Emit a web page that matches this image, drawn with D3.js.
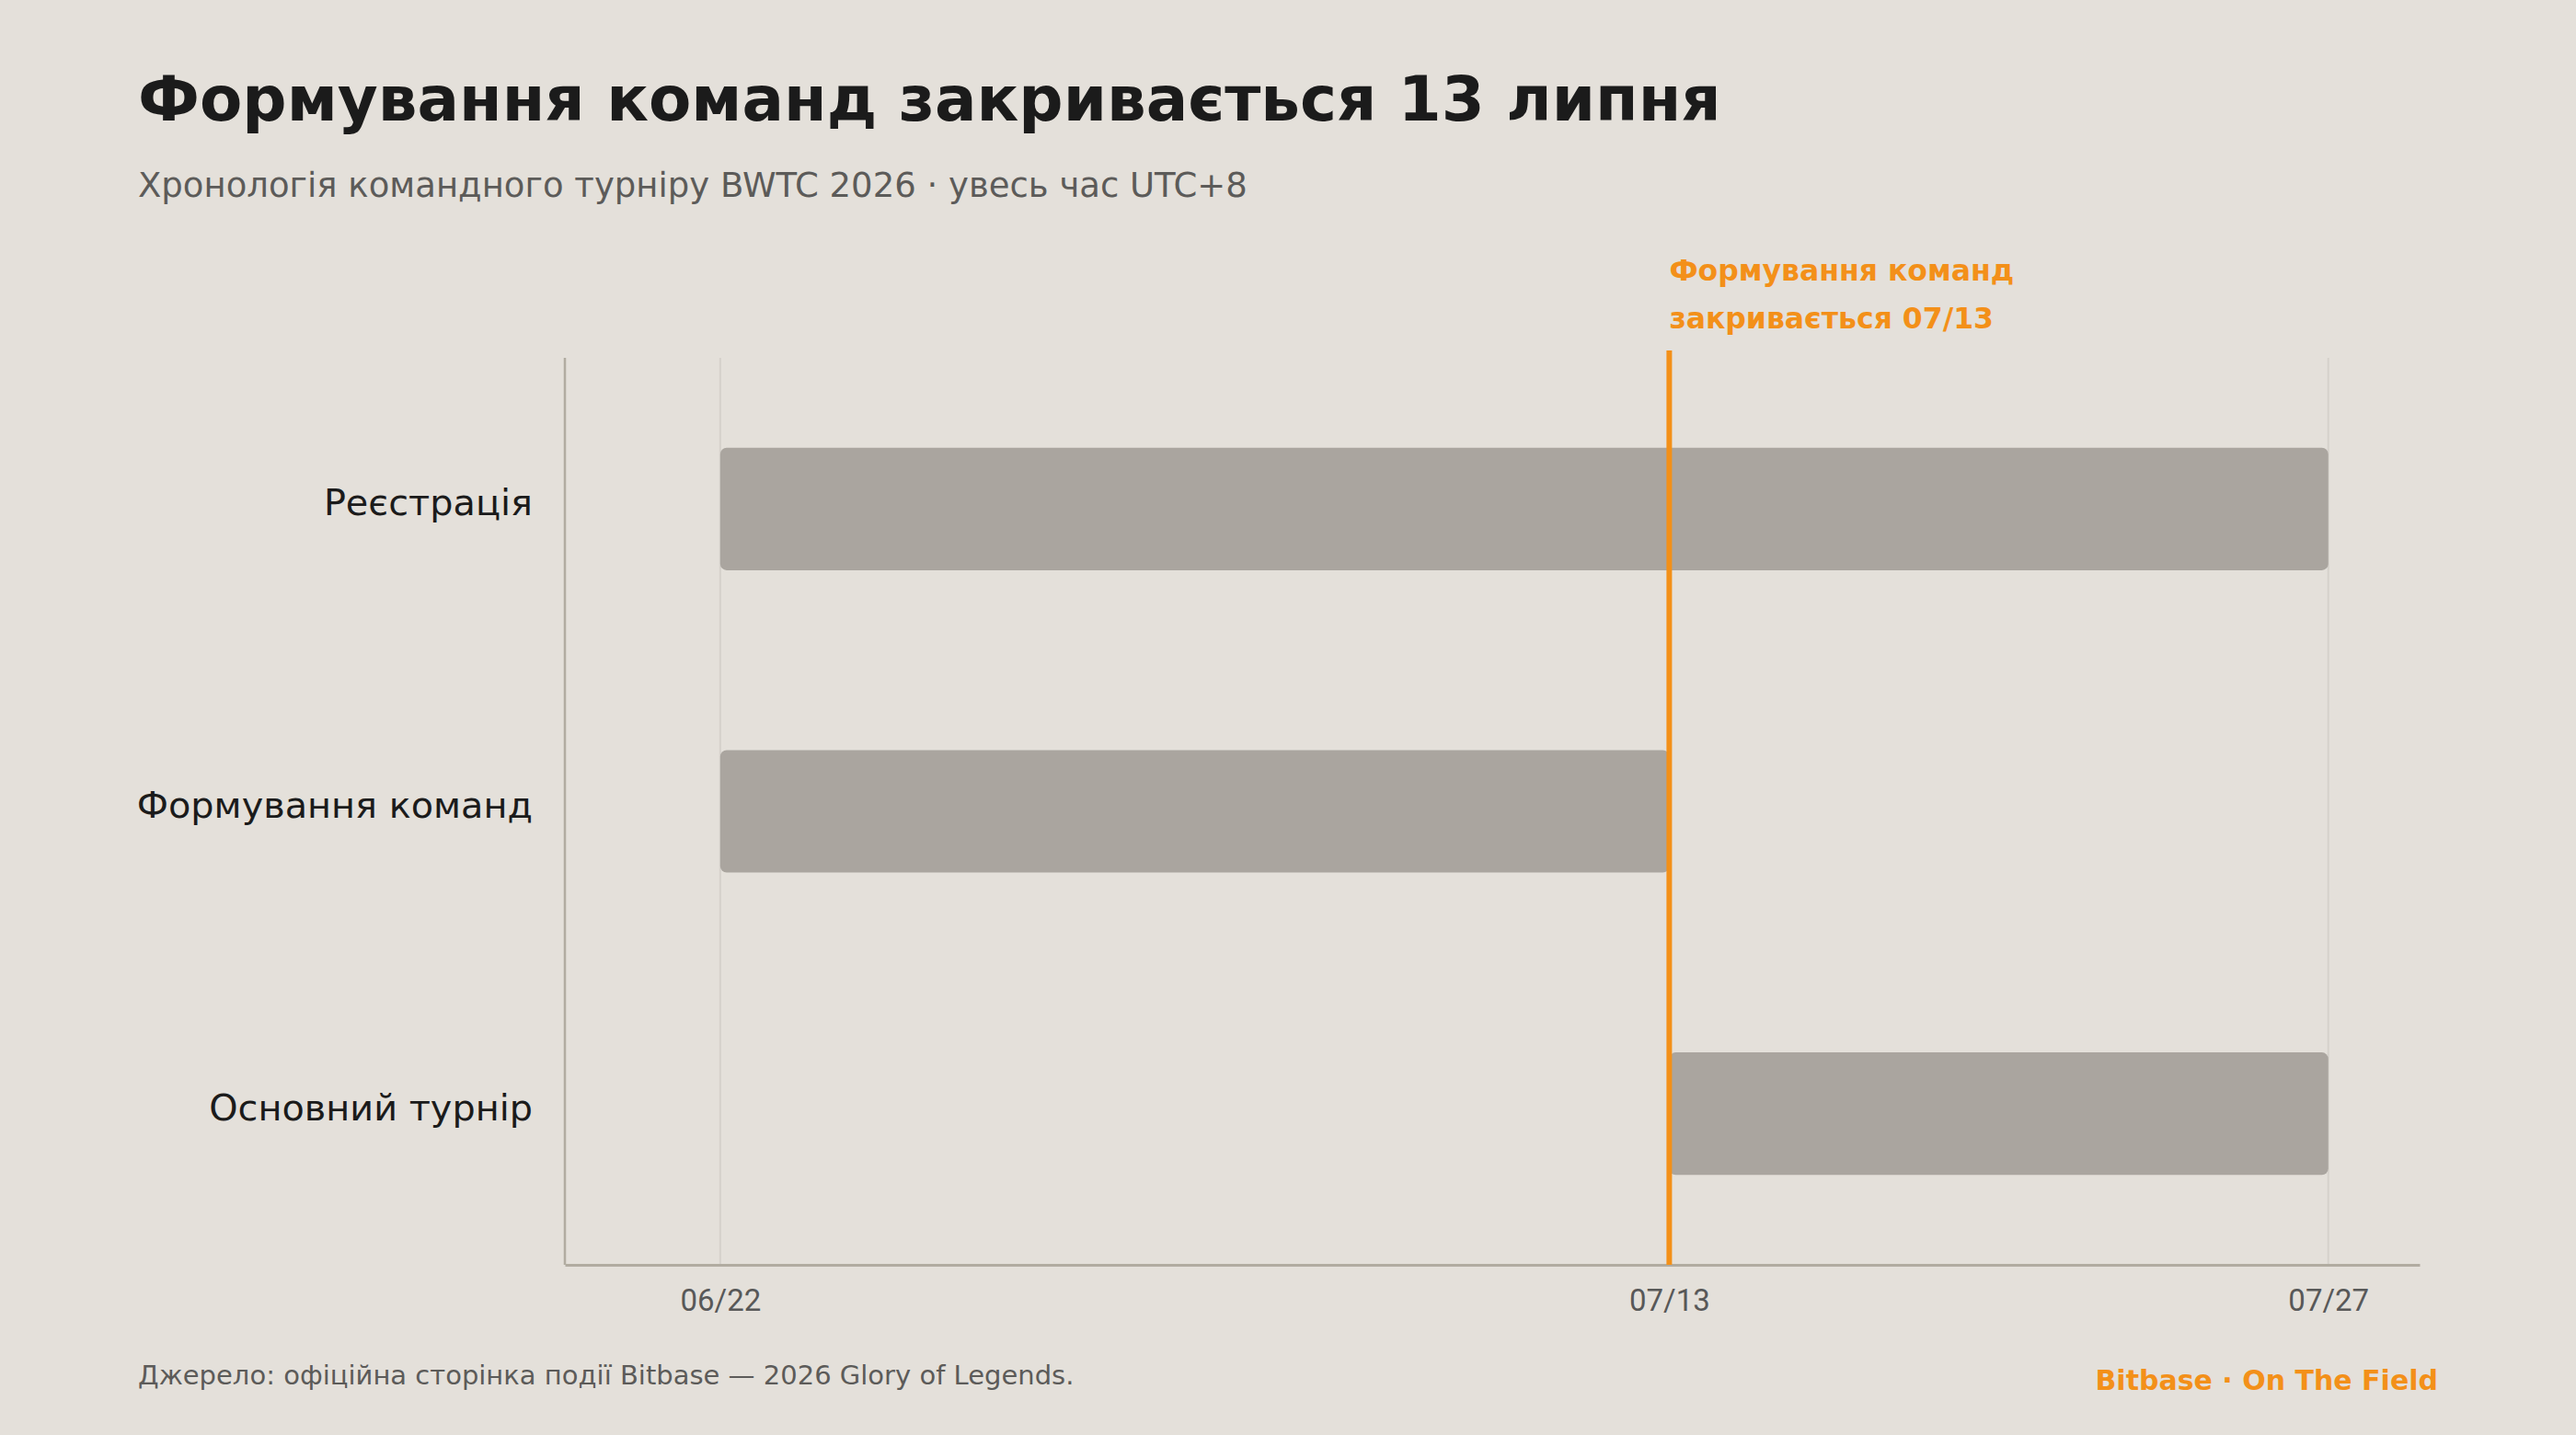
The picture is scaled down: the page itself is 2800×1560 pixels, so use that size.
<!DOCTYPE html>
<html>
<head>
<meta charset="utf-8">
<script src="https://cdn.jsdelivr.net/npm/d3@7"></script>
<style>
  html, body { margin: 0; padding: 0; background: #e4e0da; }
  svg { display: block; }
</style>
</head>
<body>
<svg class="chart_svg"></svg>
<script>
// timeline data (dates are UTC+8 local, stored as plain UTC stamps)
const stages = ["Реєстрація", "Формування команд", "Основний турнір"];
const stageStart = ["2026-06-22T00:00Z", "2026-06-22T00:00Z", "2026-07-13T00:00Z"];
const stageEnd = ["2026-07-27T14:00Z", "2026-07-13T00:00Z", "2026-07-27T14:00Z"];
const tickDates = ["2026-06-22T00:00Z", "2026-07-13T00:00Z", "2026-07-27T14:00Z"];
const xDomain = ["2026-06-18T13:30Z", "2026-07-29T14:30Z"];
const markerDate = "2026-07-13T00:00Z";
const markerLines = ["Формування команд", "закривається 07/13"];

const W = 2800, H = 1560;
const margin = { top: 389, right: 170, bottom: 185, left: 614 };
const width = W - margin.left - margin.right,
      height = H - margin.top - margin.bottom;

const orange = "#f39019";
const font = "'DejaVu Sans', 'Noto Sans', sans-serif";

const svg = d3.select(".chart_svg")
    .attr("width", W)
    .attr("height", H)
    .style("background", "#e4e0da");

// title + subtitle
svg.append("text")
    .attr("class", "title")
    .attr("x", 150).attr("y", 131)
    .style("font-family", font)
    .style("font-weight", 700)
    .style("font-size", "67.5px")
    .attr("fill", "#1b1b1b")
    .text("Формування команд закривається 13 липня");

svg.append("text")
    .attr("class", "subtitle")
    .attr("x", 150).attr("y", 214)
    .style("font-family", font)
    .style("font-size", "37px")
    .attr("fill", "#5c5b59")
    .text("Хронологія командного турніру BWTC 2026 · увесь час UTC+8");

const g = svg.append("g")
    .attr("transform", `translate(${margin.left}, ${margin.top})`);

const x = d3.scaleUtc()
    .domain(xDomain.map(d3.isoParse))
    .range([0, width]);

const y = d3.scaleBand()
    .domain(stages)
    .range([0, height])
    .paddingInner(0.595)
    .paddingOuter(0.2975);

// vertical gridlines at the key dates
g.selectAll(".grid")
    .data(tickDates)
    .join("line")
    .attr("class", "grid")
    .attr("x1", d => x(d3.isoParse(d)))
    .attr("x2", d => x(d3.isoParse(d)))
    .attr("y1", 0)
    .attr("y2", height)
    .attr("stroke", "#d5d1cb")
    .attr("stroke-width", 2);

// bars
g.selectAll(".bar")
    .data(stages)
    .join("rect")
    .attr("class", "bar")
    .attr("x", (d, i) => x(d3.isoParse(stageStart[i])))
    .attr("y", d => y(d))
    .attr("width", (d, i) => x(d3.isoParse(stageEnd[i])) - x(d3.isoParse(stageStart[i])))
    .attr("height", y.bandwidth())
    .attr("rx", 7)
    .attr("fill", "#aaa59f");

// stage labels
g.selectAll(".stage_label")
    .data(stages)
    .join("text")
    .attr("class", "stage_label")
    .attr("x", -35)
    .attr("y", d => y(d) + y.bandwidth() / 2 + 7)
    .attr("text-anchor", "end")
    .style("font-family", font)
    .style("font-size", "39.8px")
    .attr("fill", "#1b1b1b")
    .text(d => d);

// x axis
const xAxis = g.append("g")
    .attr("transform", `translate(0, ${height})`)
    .call(d3.axisBottom(x)
        .tickValues(tickDates.map(d3.isoParse))
        .tickFormat(d3.utcFormat("%m/%d"))
        .tickSize(0)
        .tickPadding(27));
xAxis.select(".domain").attr("stroke", "#b1aca1").attr("stroke-width", 3);
xAxis.selectAll("text")
    .style("font-family", "Roboto, 'Noto Sans', sans-serif")
    .style("font-size", "33px")
    .attr("fill", "#585858");

// y axis line
g.append("line")
    .attr("x1", 0).attr("x2", 0)
    .attr("y1", 0).attr("y2", height)
    .attr("stroke", "#b1aca1")
    .attr("stroke-width", 2.5);

// deadline marker
const mx = x(d3.isoParse(markerDate));
g.append("line")
    .attr("x1", mx).attr("x2", mx)
    .attr("y1", -8).attr("y2", height)
    .attr("stroke", orange)
    .attr("stroke-width", 6);

g.selectAll(".marker_label")
    .data(markerLines)
    .join("text")
    .attr("class", "marker_label")
    .attr("x", mx)
    .attr("y", (d, i) => -84 + i * 52)
    .style("font-family", font)
    .style("font-weight", 700)
    .style("font-size", "31.5px")
    .attr("fill", orange)
    .text(d => d);

// footer
svg.append("text")
    .attr("class", "source")
    .attr("x", 150).attr("y", 1505)
    .style("font-family", font)
    .style("font-size", "29px")
    .attr("fill", "#5c5b59")
    .text("Джерело: офіційна сторінка події Bitbase — 2026 Glory of Legends.");

svg.append("text")
    .attr("x", 2650).attr("y", 1511)
    .attr("text-anchor", "end")
    .style("font-family", font)
    .style("font-weight", 700)
    .style("font-size", "30px")
    .attr("fill", orange)
    .text("Bitbase · On The Field");
</script>
</body>
</html>
